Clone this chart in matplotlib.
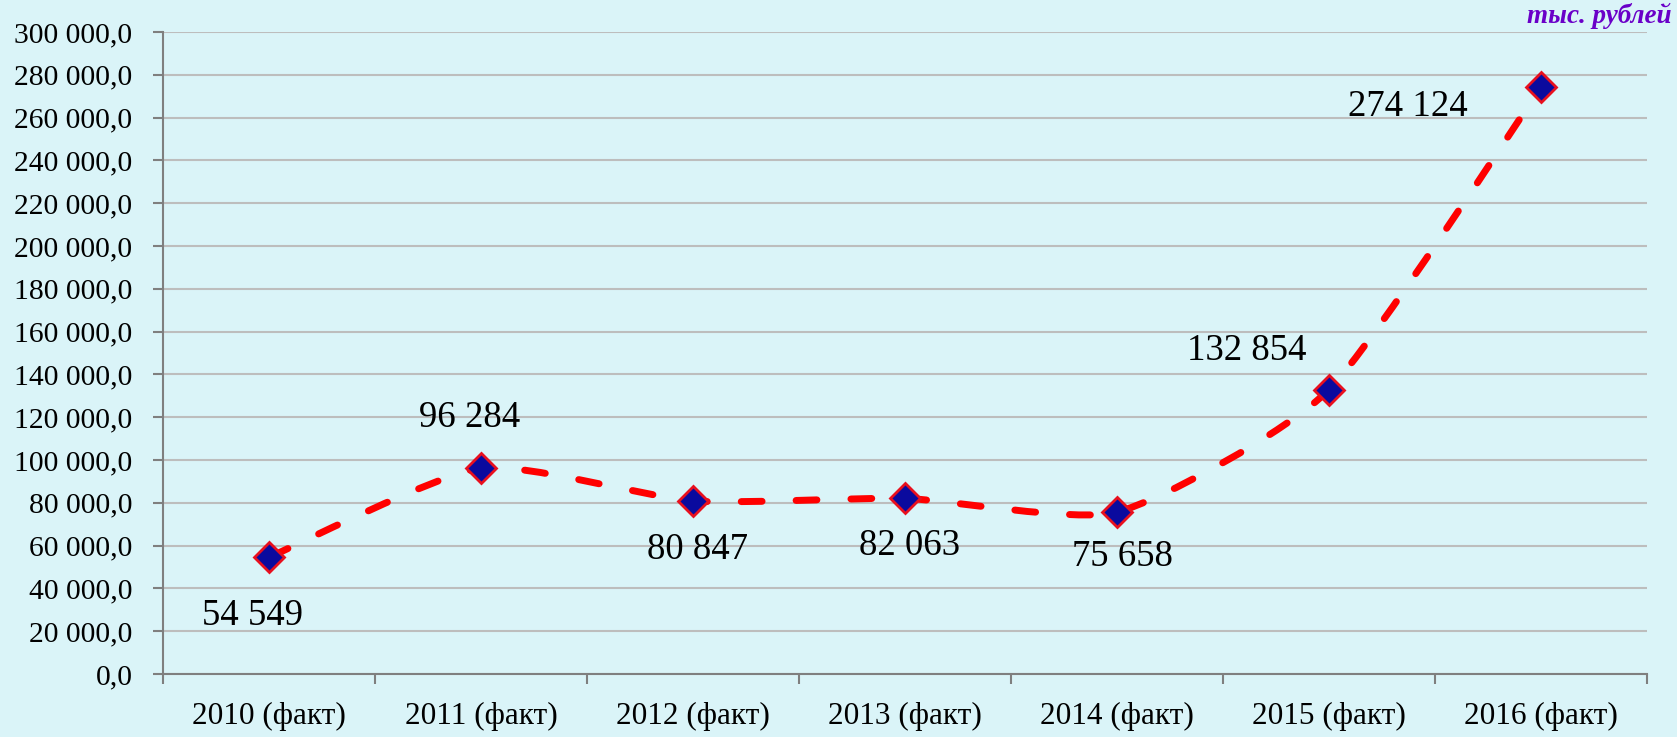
import numpy as np
import matplotlib.pyplot as plt
from matplotlib.path import Path
from matplotlib.patches import PathPatch
from matplotlib.ticker import FuncFormatter, MultipleLocator

years = ["2010 (факт)", "2011 (факт)", "2012 (факт)", "2013 (факт)",
         "2014 (факт)", "2015 (факт)", "2016 (факт)"]
values = [54549, 96284, 80847, 82063, 75658, 132854, 274124]
value_labels = ["54 549", "96 284", "80 847", "82 063", "75 658", "132 854", "274 124"]
label_offsets = [(-12, -42), (-8, 36), (3, -35), (3, -34), (4, -32), (-59, 28), (-96, -14)]
unit_text = "тыс. рублей"

BG = "#DAF4F8"
plt.rcParams['font.family'] = ['Liberation Serif', 'DejaVu Serif']

fig = plt.figure(figsize=(16.77, 7.37), dpi=100, facecolor=BG)
ax = fig.add_axes([163 / 1677, 1 - 674 / 737, (1647 - 163) / 1677, (674 - 32) / 737])
ax.set_facecolor(BG)

x = np.arange(len(values))
y = np.array(values, dtype=float)

# smoothed line like excel, gentle tension so it does not overshoot much
pts = np.column_stack([x, y])
verts = [pts[0]]
codes = [Path.MOVETO]
k = 1 / 10
for i in range(len(pts) - 1):
    p0 = pts[i - 1] if i > 0 else pts[i]
    p1 = pts[i]
    p2 = pts[i + 1]
    p3 = pts[i + 2] if i + 2 < len(pts) else pts[i + 1]
    c1 = p1 + (p2 - p0) * k
    c2 = p2 - (p3 - p1) * k
    verts += [c1, c2, p2]
    codes += [Path.CURVE4] * 3
patch = PathPatch(Path(verts, codes), facecolor='none', edgecolor='#FF0000',
                  lw=5, linestyle=(0, (3.0, 4.9)), capstyle='round', zorder=3)
ax.add_patch(patch)

ax.plot(x, y, linestyle='none', marker='D', ms=15, mfc='#0A0A9E', mec='#E8101E',
        mew=2, zorder=4)

for xi, yi, lab, off in zip(x, y, value_labels, label_offsets):
    ax.annotate(lab, (xi, yi), xytext=off, textcoords='offset points',
                ha='center', va='center', fontsize=26.5, color='black', zorder=5)

ax.set_xlim(-0.5, len(values) - 0.5)
ax.set_ylim(0, 300000)
ax.yaxis.set_major_locator(MultipleLocator(20000))
ax.yaxis.set_major_formatter(FuncFormatter(lambda v, p: f"{v:,.1f}".replace(",", " ").replace(".", ",")))
ax.grid(axis='y', color='#BDBDBD', lw=1.5, zorder=0)
ax.set_axisbelow(True)

# category ticks at the boundaries, labels in the middle
ax.set_xticks(np.arange(len(values) + 1) - 0.5)
ax.set_xticklabels([])
ax.set_xticks(x, minor=True)
ax.set_xticklabels(years, minor=True, fontsize=22.5)
ax.tick_params(axis='x', which='major', length=7, width=1.5, color='#7F7F7F', direction='out')
ax.tick_params(axis='x', which='minor', length=0, pad=20)
ax.tick_params(axis='y', length=7, width=1.5, color='#7F7F7F', labelsize=21.3, pad=15)

for s in ['top', 'right']:
    ax.spines[s].set_visible(False)
for s in ['left', 'bottom']:
    ax.spines[s].set_color('#7F7F7F')
    ax.spines[s].set_linewidth(1.5)

fig.text(1672 / 1677, 1 - 16 / 737, unit_text, ha='right', va='center', fontsize=19.5,
         fontweight='bold', style='italic', color='#6A00C8')

fig.savefig("out.png", dpi=100, facecolor=BG)
